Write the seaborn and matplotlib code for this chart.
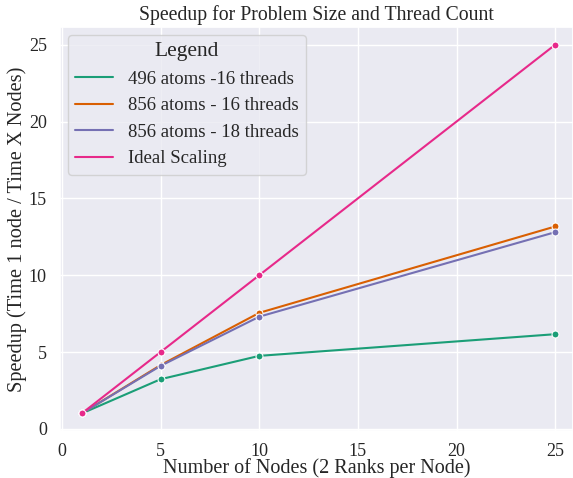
import numpy as np
import pandas as pd
import matplotlib
matplotlib.use('Agg')
import matplotlib.pyplot as plt
from matplotlib.lines import Line2D
import seaborn as sns

# Node counts and measured speedups
nodes = [1, 5, 10, 25]
speedup_496_16 = [1.0, 3.23, 4.75, 6.16]
speedup_856_16 = [1.0, 4.15, 7.55, 13.17]
speedup_856_18 = [1.0, 4.1, 7.3, 12.8]
speedup_ideal = [1.0, 5.0, 10.0, 25.0]
labels = ['496 atoms -16 threads', '856 atoms - 16 threads',
          '856 atoms - 18 threads', 'Ideal Scaling']

data = pd.DataFrame({
    'Nodes': nodes * 4,
    'Speedup': speedup_496_16 + speedup_856_16 + speedup_856_18 + speedup_ideal,
    'Run': [l for l in labels for _ in nodes],
})

sns.set_theme(style='darkgrid')
plt.rcParams['font.family'] = ['Liberation Serif', 'DejaVu Serif']

colors = sns.color_palette('Dark2', 4)

fig = plt.figure(figsize=(5.73, 4.78), dpi=100)
ax = fig.add_axes([0.1047, 0.098, 0.8953, 0.8455])
sns.lineplot(data=data, x='Nodes', y='Speedup', hue='Run', palette=colors,
             marker='o', markersize=5, ax=ax, legend=False)

ax.set_xlim(-0.1, 25.9)
ax.set_ylim(-0.15, 26.15)
ax.set_title('Speedup for Problem Size and Thread Count', fontsize=14.2, pad=5)
ax.set_xlabel('Number of Nodes (2 Ranks per Node)', fontsize=14.5, labelpad=-1)
ax.set_ylabel('Speedup (Time 1 node / Time X Nodes)', fontsize=14.7, labelpad=1)
ax.tick_params(labelsize=13)
ax.tick_params(axis='x', pad=2.5)
ax.set_xticks([0, 5, 10, 15, 20, 25])
ax.set_yticks([0, 5, 10, 15, 20, 25])

handles = [Line2D([], [], color=c, lw=1.5) for c in colors]
ax.legend(handles, labels, title='Legend', fontsize=13.5, title_fontsize=15.5,
          loc='upper left', borderaxespad=0.42)

plt.savefig('out.png')
